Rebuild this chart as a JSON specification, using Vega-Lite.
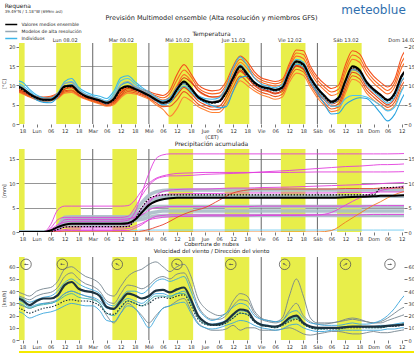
{
"$schema": "https://vega.github.io/schema/vega-lite/v6.json",
"padding": {"left": 1, "top": 2, "right": 0, "bottom": 0},
"background": "white",
"title": {"text": "Requena", "subtitle": "39.49°N / 1.18°W (699m asl)", "anchor": "start", "frame": "bounds", "dx": 3, "fontSize": 6, "subtitleFontSize": 4, "fontWeight": "normal", "offset": -9.5, "subtitlePadding": 1, "color": "#222", "subtitleColor": "#333"},
"spacing": 1,
"config": {
 "font": "DejaVu Sans",
 "view": {"stroke": null},
 "axis": {"labelFont": "DejaVu Sans", "titleFont": "DejaVu Sans", "labelColor": "#333", "titleColor": "#333", "tickColor": "#777", "labelFontSize": 5, "titleFontSize": 5, "titleFontWeight": "normal", "domain": false, "grid": false, "tickSize": 3, "labelPadding": 1},
 "legend": {"rowPadding": 0, "symbolSize": 9, "labelFontSize": 4.5},
 "title": {"font": "DejaVu Sans", "fontWeight": "normal", "color": "#222"}
},
"datasets": {
 "days": [
  {"d0": -24, "r": -15.6, "s": -5.1},
  {"d0": 0, "r": 8.4, "s": 18.9},
  {"d0": 24, "r": 32.4, "s": 42.9},
  {"d0": 48, "r": 56.4, "s": 66.9},
  {"d0": 72, "r": 80.4, "s": 90.9},
  {"d0": 96, "r": 104.4, "s": 114.9},
  {"d0": 120, "r": 128.4, "s": 138.9},
  {"d0": 144, "r": 152.4, "s": 162.9}
 ],
 "temp": [
  {"t":-9,"m":10.0,"d":9.6,"o1":9.6,"o2":9.2,"o3":8.8,"o4":8.5,"o5":9.0,"o6":9.4,"o7":8.6,"b1":11.3,"b2":10.8,"b3":10.4,"h1":10.2,"h2":9.8},
  {"t":-6,"m":9.2,"d":8.8,"o1":9.2,"o2":8.6,"o3":8.2,"o4":7.8,"o5":8.5,"o6":8.9,"o7":8.0,"b1":10.8,"b2":10.0,"b3":9.5,"h1":9.5,"h2":9.0},
  {"t":-3,"m":7.8,"d":7.6,"o1":8.0,"o2":7.6,"o3":7.3,"o4":7.0,"o5":7.5,"o6":7.8,"o7":7.1,"b1":9.0,"b2":8.5,"b3":7.8,"h1":8.0,"h2":7.6},
  {"t":0,"m":6.8,"d":6.6,"o1":7.2,"o2":6.9,"o3":6.6,"o4":6.3,"o5":6.8,"o6":7.0,"o7":6.4,"b1":7.5,"b2":7.0,"b3":6.2,"h1":7.0,"h2":6.5},
  {"t":3,"m":6.3,"d":6.2,"o1":7.0,"o2":6.6,"o3":6.2,"o4":5.9,"o5":6.4,"o6":6.8,"o7":6.0,"b1":6.8,"b2":6.3,"b3":5.6,"h1":6.5,"h2":6.0},
  {"t":6,"m":6.3,"d":6.2,"o1":7.2,"o2":6.7,"o3":6.3,"o4":6.0,"o5":6.5,"o6":7.0,"o7":6.1,"b1":6.7,"b2":6.2,"b3":5.5,"h1":6.4,"h2":6.0},
  {"t":9,"m":7.5,"d":7.3,"o1":8.0,"o2":7.5,"o3":7.0,"o4":6.6,"o5":7.2,"o6":7.8,"o7":6.8,"b1":8.0,"b2":7.6,"b3":7.0,"h1":7.8,"h2":7.3},
  {"t":12,"m":9.8,"d":9.5,"o1":9.8,"o2":9.2,"o3":8.6,"o4":8.0,"o5":9.0,"o6":9.6,"o7":8.3,"b1":11.0,"b2":10.5,"b3":9.8,"h1":10.5,"h2":9.8},
  {"t":15,"m":9.9,"d":9.7,"o1":10.2,"o2":9.5,"o3":8.8,"o4":8.2,"o5":9.4,"o6":9.9,"o7":8.6,"b1":11.8,"b2":11.0,"b3":10.2,"h1":10.8,"h2":10.0},
  {"t":18,"m":8.3,"d":8.2,"o1":8.6,"o2":8.2,"o3":7.6,"o4":7.2,"o5":8.0,"o6":8.4,"o7":7.4,"b1":9.5,"b2":9.0,"b3":8.5,"h1":8.8,"h2":8.4},
  {"t":21,"m":7.2,"d":7.1,"o1":7.6,"o2":7.2,"o3":6.8,"o4":6.4,"o5":7.0,"o6":7.4,"o7":6.6,"b1":8.3,"b2":7.8,"b3":7.2,"h1":7.6,"h2":7.2},
  {"t":24,"m":6.6,"d":6.5,"o1":6.9,"o2":6.6,"o3":6.2,"o4":5.8,"o5":6.4,"o6":6.8,"o7":6.0,"b1":7.6,"b2":7.2,"b3":6.6,"h1":7.0,"h2":6.6},
  {"t":27,"m":6.1,"d":6.0,"o1":6.3,"o2":6.0,"o3":5.6,"o4":5.2,"o5":5.8,"o6":6.2,"o7":5.4,"b1":7.2,"b2":6.6,"b3":6.0,"h1":6.4,"h2":6.0},
  {"t":30,"m":5.5,"d":5.4,"o1":5.8,"o2":5.4,"o3":5.0,"o4":4.6,"o5":5.2,"o6":5.6,"o7":4.8,"b1":6.6,"b2":6.0,"b3":5.2,"h1":5.8,"h2":5.4},
  {"t":33,"m":6.5,"d":6.2,"o1":6.4,"o2":6.0,"o3":5.6,"o4":5.0,"o5":5.8,"o6":6.2,"o7":5.3,"b1":8.5,"b2":7.8,"b3":6.8,"h1":7.2,"h2":6.4},
  {"t":36,"m":9.2,"d":8.8,"o1":8.6,"o2":8.0,"o3":7.5,"o4":6.8,"o5":8.0,"o6":8.3,"o7":7.2,"b1":12.0,"b2":11.2,"b3":10.0,"h1":10.2,"h2":9.2},
  {"t":39,"m":9.8,"d":9.6,"o1":10.0,"o2":9.4,"o3":8.8,"o4":8.0,"o5":9.2,"o6":9.7,"o7":8.4,"b1":12.5,"b2":11.8,"b3":10.8,"h1":11.0,"h2":10.0},
  {"t":42,"m":9.1,"d":9.0,"o1":9.6,"o2":9.0,"o3":8.5,"o4":7.8,"o5":8.8,"o6":9.3,"o7":8.1,"b1":11.0,"b2":10.4,"b3":9.6,"h1":9.8,"h2":9.2},
  {"t":45,"m":8.3,"d":8.2,"o1":9.0,"o2":8.4,"o3":7.8,"o4":7.2,"o5":8.2,"o6":8.7,"o7":7.5,"b1":9.5,"b2":9.0,"b3":8.4,"h1":8.8,"h2":8.4},
  {"t":48,"m":7.4,"d":7.3,"o1":8.4,"o2":7.6,"o3":7.0,"o4":6.4,"o5":7.4,"o6":8.0,"o7":6.7,"b1":8.3,"b2":7.8,"b3":7.2,"h1":7.8,"h2":7.4},
  {"t":51,"m":6.3,"d":6.2,"o1":7.8,"o2":6.8,"o3":6.0,"o4":5.0,"o5":6.4,"o6":7.3,"o7":5.5,"b1":7.0,"b2":6.6,"b3":6.0,"h1":6.6,"h2":6.2},
  {"t":54,"m":5.5,"d":5.4,"o1":7.4,"o2":6.2,"o3":5.2,"o4":3.8,"o5":5.6,"o6":6.8,"o7":4.5,"b1":6.0,"b2":5.6,"b3":5.0,"h1":5.8,"h2":5.4},
  {"t":57,"m":6.2,"d":6.0,"o1":8.8,"o2":7.0,"o3":5.6,"o4":2.0,"o5":6.2,"o6":8.0,"o7":4.6,"b1":6.8,"b2":6.2,"b3":5.6,"h1":6.4,"h2":6.0},
  {"t":60,"m":9.0,"d":8.7,"o1":12.8,"o2":10.0,"o3":7.5,"o4":4.0,"o5":9.5,"o6":11.4,"o7":6.2,"b1":9.5,"b2":8.8,"b3":8.2,"h1":9.2,"h2":8.8},
  {"t":63,"m":11.0,"d":10.7,"o1":15.4,"o2":12.8,"o3":9.5,"o4":7.0,"o5":12.0,"o6":14.0,"o7":8.4,"b1":10.8,"b2":10.4,"b3":9.8,"h1":11.0,"h2":10.5},
  {"t":66,"m":9.3,"d":9.0,"o1":13.0,"o2":11.2,"o3":8.0,"o4":6.0,"o5":10.8,"o6":12.2,"o7":7.0,"b1":9.2,"b2":8.8,"b3":8.4,"h1":9.4,"h2":9.0},
  {"t":69,"m":7.0,"d":6.8,"o1":10.2,"o2":8.6,"o3":6.0,"o4":4.5,"o5":8.8,"o6":9.4,"o7":5.2,"b1":7.4,"b2":7.0,"b3":6.6,"h1":7.2,"h2":7.0},
  {"t":72,"m":6.0,"d":5.8,"o1":9.0,"o2":7.4,"o3":5.0,"o4":3.6,"o5":7.6,"o6":8.2,"o7":4.3,"b1":6.6,"b2":6.2,"b3":5.6,"h1":6.2,"h2":6.0},
  {"t":75,"m":5.6,"d":5.4,"o1":8.6,"o2":7.0,"o3":4.4,"o4":3.0,"o5":7.0,"o6":7.8,"o7":3.7,"b1":6.4,"b2":5.8,"b3":4.8,"h1":5.8,"h2":5.6},
  {"t":78,"m":5.9,"d":5.7,"o1":8.8,"o2":7.2,"o3":4.6,"o4":3.0,"o5":7.0,"o6":8.0,"o7":3.8,"b1":6.8,"b2":6.0,"b3":4.2,"h1":6.2,"h2":5.8},
  {"t":81,"m":8.3,"d":8.0,"o1":11.0,"o2":9.4,"o3":7.0,"o4":5.0,"o5":8.5,"o6":10.2,"o7":6.0,"b1":9.5,"b2":8.2,"b3":4.5,"h1":8.6,"h2":8.0},
  {"t":84,"m":12.0,"d":11.6,"o1":15.0,"o2":13.2,"o3":10.8,"o4":8.5,"o5":11.5,"o6":14.2,"o7":9.6,"b1":14.5,"b2":12.5,"b3":8.5,"h1":12.4,"h2":11.6},
  {"t":87,"m":15.0,"d":14.6,"o1":17.6,"o2":16.0,"o3":13.6,"o4":11.2,"o5":14.0,"o6":16.8,"o7":12.4,"b1":17.4,"b2":15.4,"b3":12.0,"h1":15.2,"h2":14.6},
  {"t":90,"m":13.0,"d":12.6,"o1":16.2,"o2":14.4,"o3":12.0,"o4":10.0,"o5":12.2,"o6":15.3,"o7":11.0,"b1":15.2,"b2":13.4,"b3":12.4,"h1":13.0,"h2":12.6},
  {"t":93,"m":10.8,"d":10.5,"o1":13.6,"o2":12.0,"o3":10.0,"o4":8.6,"o5":10.2,"o6":12.8,"o7":9.3,"b1":12.0,"b2":11.0,"b3":10.6,"h1":10.8,"h2":10.5},
  {"t":96,"m":9.7,"d":9.5,"o1":12.0,"o2":10.8,"o3":8.8,"o4":7.6,"o5":9.2,"o6":11.4,"o7":8.2,"b1":10.4,"b2":9.8,"b3":9.4,"h1":9.8,"h2":9.5},
  {"t":99,"m":9.3,"d":9.1,"o1":11.4,"o2":10.2,"o3":8.4,"o4":7.0,"o5":8.6,"o6":10.8,"o7":7.7,"b1":9.8,"b2":9.4,"b3":9.0,"h1":9.4,"h2":9.1},
  {"t":102,"m":8.8,"d":8.6,"o1":11.0,"o2":9.8,"o3":7.8,"o4":6.4,"o5":8.0,"o6":10.4,"o7":7.1,"b1":9.4,"b2":9.0,"b3":8.6,"h1":9.0,"h2":8.6},
  {"t":105,"m":9.5,"d":9.3,"o1":11.6,"o2":10.4,"o3":8.4,"o4":7.0,"o5":8.8,"o6":11.0,"o7":7.7,"b1":10.2,"b2":9.6,"b3":9.2,"h1":9.6,"h2":9.3},
  {"t":108,"m":13.5,"d":13.2,"o1":15.6,"o2":14.4,"o3":12.4,"o4":10.8,"o5":12.6,"o6":15.0,"o7":11.6,"b1":14.2,"b2":13.6,"b3":13.0,"h1":13.6,"h2":13.2},
  {"t":111,"m":16.3,"d":16.0,"o1":19.2,"o2":17.6,"o3":15.2,"o4":13.2,"o5":15.0,"o6":18.4,"o7":14.2,"b1":16.8,"b2":16.2,"b3":15.6,"h1":16.4,"h2":16.0},
  {"t":114,"m":15.5,"d":15.2,"o1":19.0,"o2":17.0,"o3":14.4,"o4":12.6,"o5":14.2,"o6":18.0,"o7":13.5,"b1":16.0,"b2":15.4,"b3":14.8,"h1":15.6,"h2":15.2},
  {"t":117,"m":12.0,"d":11.8,"o1":15.0,"o2":13.4,"o3":11.0,"o4":9.6,"o5":11.0,"o6":14.2,"o7":10.3,"b1":12.4,"b2":11.8,"b3":11.0,"h1":12.0,"h2":11.8},
  {"t":120,"m":9.3,"d":9.1,"o1":12.2,"o2":10.6,"o3":8.2,"o4":6.8,"o5":8.4,"o6":11.4,"o7":7.5,"b1":9.6,"b2":8.8,"b3":8.0,"h1":9.4,"h2":9.0},
  {"t":123,"m":7.3,"d":7.1,"o1":10.4,"o2":8.8,"o3":6.2,"o4":4.8,"o5":6.6,"o6":9.6,"o7":5.5,"b1":7.4,"b2":6.4,"b3":5.2,"h1":7.4,"h2":7.0},
  {"t":126,"m":5.8,"d":5.6,"o1":9.2,"o2":7.4,"o3":4.6,"o4":3.2,"o5":5.2,"o6":8.3,"o7":3.9,"b1":5.4,"b2":4.6,"b3":2.6,"h1":6.0,"h2":5.6},
  {"t":129,"m":6.8,"d":6.5,"o1":10.0,"o2":8.0,"o3":5.2,"o4":3.6,"o5":6.0,"o6":9.0,"o7":4.4,"b1":6.4,"b2":4.6,"b3":2.8,"h1":6.8,"h2":6.4},
  {"t":132,"m":11.3,"d":11.0,"o1":15.4,"o2":13.2,"o3":9.8,"o4":8.0,"o5":10.6,"o6":14.3,"o7":8.9,"b1":10.8,"b2":6.6,"b3":5.0,"h1":11.0,"h2":10.5},
  {"t":135,"m":15.0,"d":14.6,"o1":19.0,"o2":16.8,"o3":13.4,"o4":11.6,"o5":14.4,"o6":17.9,"o7":12.5,"b1":14.2,"b2":7.4,"b3":6.2,"h1":14.6,"h2":14.0},
  {"t":138,"m":14.0,"d":13.7,"o1":18.2,"o2":16.0,"o3":12.6,"o4":10.8,"o5":13.6,"o6":17.1,"o7":11.7,"b1":13.2,"b2":7.4,"b3":6.8,"h1":13.8,"h2":13.4},
  {"t":141,"m":10.9,"d":10.7,"o1":14.8,"o2":12.8,"o3":9.6,"o4":8.0,"o5":10.6,"o6":13.8,"o7":8.8,"b1":10.2,"b2":7.0,"b3":6.6,"h1":10.8,"h2":10.4},
  {"t":144,"m":9.0,"d":8.8,"o1":12.4,"o2":10.6,"o3":7.8,"o4":6.2,"o5":8.8,"o6":11.5,"o7":7.0,"b1":8.4,"b2":6.0,"b3":5.0,"h1":9.0,"h2":8.6},
  {"t":147,"m":7.6,"d":7.4,"o1":10.8,"o2":9.0,"o3":6.2,"o4":4.8,"o5":7.4,"o6":9.9,"o7":5.5,"b1":6.8,"b2":4.8,"b3":2.8,"h1":7.6,"h2":7.2},
  {"t":150,"m":6.2,"d":6.0,"o1":9.6,"o2":7.8,"o3":5.0,"o4":3.6,"o5":6.2,"o6":8.7,"o7":4.3,"b1":5.4,"b2":3.4,"b3":0.8,"h1":6.4,"h2":6.0},
  {"t":153,"m":8.0,"d":7.6,"o1":11.6,"o2":9.6,"o3":6.6,"o4":4.8,"o5":8.0,"o6":10.6,"o7":5.7,"b1":7.0,"b2":4.4,"b3":2.5,"h1":8.0,"h2":7.6},
  {"t":156,"m":12.5,"d":12.2,"o1":17.4,"o2":14.6,"o3":11.0,"o4":9.0,"o5":12.6,"o6":16.0,"o7":10.0,"b1":11.2,"b2":8.6,"b3":6.5,"h1":12.4,"h2":12.0},
  {"t":159,"m":14.5,"d":14.2,"o1":20.0,"o2":17.0,"o3":13.0,"o4":11.0,"o5":14.8,"o6":18.5,"o7":12.0,"b1":13.0,"b2":11.5,"b3":9.5,"h1":14.4,"h2":14.0}
 ],
 "precip": [
  {"t":-9,"m":0,"d":0,"p1":0,"p2":0,"p3":0,"p4":0,"p5":0,"p6":0,"p7":0,"p8":0,"r1":0,"r2":0,"g1":0,"g2":0,"g3":0,"g4":0,"g5":0,"c1":0},
  {"t":0,"m":0,"d":0,"p1":0,"p2":0,"p3":0,"p4":0,"p5":0,"p6":0,"p7":0,"p8":0,"r1":0,"r2":0,"g1":0,"g2":0,"g3":0,"g4":0,"g5":0,"c1":0},
  {"t":3,"m":0,"d":0,"p1":0,"p2":0,"p3":0,"p4":0,"p5":0,"p6":0,"p7":0,"p8":0,"r1":0,"r2":0,"g1":0,"g2":0,"g3":0,"g4":0,"g5":0,"c1":0},
  {"t":6,"m":0.3,"d":0,"p1":0.5,"p2":0.8,"p3":1.5,"p4":0,"p5":0,"p6":0,"p7":0,"p8":0,"r1":0,"r2":0,"g1":0,"g2":0,"g3":0,"g4":0,"g5":0,"c1":0},
  {"t":9,"m":1.0,"d":0.5,"p1":1.5,"p2":2.5,"p3":4.5,"p4":0.8,"p5":0.2,"p6":1.0,"p7":0.3,"p8":0,"r1":0,"r2":0,"g1":0.8,"g2":1.0,"g3":0.6,"g4":0.9,"g5":0.5,"c1":0.1},
  {"t":12,"m":1.5,"d":1.0,"p1":2.0,"p2":3.0,"p3":5.3,"p4":1.5,"p5":0.5,"p6":2.5,"p7":1.0,"p8":0.3,"r1":0,"r2":0,"g1":2.3,"g2":3.0,"g3":1.8,"g4":2.6,"g5":1.5,"c1":0.2},
  {"t":15,"m":1.7,"d":1.1,"p1":2.2,"p2":3.0,"p3":5.3,"p4":1.6,"p5":0.6,"p6":2.6,"p7":1.0,"p8":0.3,"r1":0,"r2":0,"g1":2.3,"g2":3.1,"g3":1.8,"g4":2.6,"g5":1.5,"c1":0.2},
  {"t":24,"m":1.7,"d":1.1,"p1":2.2,"p2":3.0,"p3":5.3,"p4":1.6,"p5":0.6,"p6":2.6,"p7":1.0,"p8":0.3,"r1":0,"r2":0,"g1":2.3,"g2":3.1,"g3":1.8,"g4":2.6,"g5":1.5,"c1":0.2},
  {"t":36,"m":1.7,"d":1.1,"p1":2.2,"p2":3.0,"p3":5.3,"p4":1.6,"p5":0.6,"p6":2.6,"p7":1.0,"p8":0.3,"r1":0,"r2":0,"g1":2.3,"g2":3.1,"g3":1.8,"g4":2.6,"g5":1.5,"c1":0.2},
  {"t":39,"m":1.8,"d":1.1,"p1":2.4,"p2":3.2,"p3":5.4,"p4":1.6,"p5":0.7,"p6":2.7,"p7":1.2,"p8":0.3,"r1":0,"r2":0,"g1":2.3,"g2":3.1,"g3":1.9,"g4":2.7,"g5":1.6,"c1":0.2},
  {"t":42,"m":2.5,"d":2.5,"p1":4.0,"p2":5.0,"p3":6.5,"p4":2.5,"p5":1.2,"p6":3.0,"p7":3.0,"p8":0.8,"r1":0,"r2":0,"g1":2.4,"g2":3.5,"g3":3.0,"g4":4.0,"g5":2.5,"c1":0.3},
  {"t":45,"m":4.0,"d":5.0,"p1":8.0,"p2":7.5,"p3":8.5,"p4":4.0,"p5":1.8,"p6":3.5,"p7":5.0,"p8":1.5,"r1":0.2,"r2":0,"g1":2.6,"g2":4.2,"g3":4.5,"g4":6.0,"g5":3.3,"c1":0.4},
  {"t":48,"m":5.5,"d":6.8,"p1":12.0,"p2":9.5,"p3":10.0,"p4":6.0,"p5":2.5,"p6":4.5,"p7":6.5,"p8":2.5,"r1":0.5,"r2":0,"g1":3.0,"g2":5.0,"g3":6.0,"g4":7.5,"g5":3.8,"c1":0.4},
  {"t":51,"m":6.3,"d":7.4,"p1":15.0,"p2":10.8,"p3":11.0,"p4":7.5,"p5":2.8,"p6":5.0,"p7":7.3,"p8":3.2,"r1":1.0,"r2":0,"g1":3.3,"g2":5.2,"g3":6.8,"g4":8.2,"g5":4.1,"c1":0.4},
  {"t":54,"m":6.7,"d":7.6,"p1":15.8,"p2":11.3,"p3":11.5,"p4":8.3,"p5":3.0,"p6":5.1,"p7":7.6,"p8":3.4,"r1":1.5,"r2":0,"g1":3.4,"g2":5.2,"g3":7.2,"g4":8.5,"g5":4.3,"c1":0.4},
  {"t":57,"m":6.9,"d":7.6,"p1":16.0,"p2":11.5,"p3":11.8,"p4":8.6,"p5":3.1,"p6":5.2,"p7":7.8,"p8":3.5,"r1":2.2,"r2":0,"g1":3.4,"g2":5.2,"g3":7.3,"g4":8.6,"g5":4.3,"c1":0.4},
  {"t":60,"m":7.0,"d":7.6,"p1":16.0,"p2":11.5,"p3":12.0,"p4":8.7,"p5":3.2,"p6":5.2,"p7":7.8,"p8":3.5,"r1":3.0,"r2":0,"g1":3.4,"g2":5.2,"g3":7.3,"g4":8.6,"g5":4.3,"c1":0.4},
  {"t":66,"m":7.0,"d":7.6,"p1":16.0,"p2":11.6,"p3":12.1,"p4":8.8,"p5":3.2,"p6":5.2,"p7":7.9,"p8":3.5,"r1":4.2,"r2":0,"g1":3.4,"g2":5.2,"g3":7.3,"g4":8.6,"g5":4.3,"c1":0.4},
  {"t":72,"m":7.0,"d":7.6,"p1":16.0,"p2":11.8,"p3":12.2,"p4":8.8,"p5":3.3,"p6":5.2,"p7":7.9,"p8":3.5,"r1":5.0,"r2":0,"g1":3.4,"g2":5.2,"g3":7.3,"g4":8.6,"g5":4.3,"c1":0.4},
  {"t":78,"m":7.0,"d":7.6,"p1":16.0,"p2":11.9,"p3":12.2,"p4":8.9,"p5":3.3,"p6":5.2,"p7":7.9,"p8":3.5,"r1":6.5,"r2":0,"g1":3.4,"g2":5.2,"g3":7.3,"g4":8.6,"g5":4.3,"c1":0.4},
  {"t":84,"m":7.0,"d":7.6,"p1":16.0,"p2":12.0,"p3":12.2,"p4":9.0,"p5":3.3,"p6":5.2,"p7":8.0,"p8":3.5,"r1":8.0,"r2":0,"g1":3.4,"g2":5.2,"g3":7.3,"g4":8.6,"g5":4.3,"c1":0.4},
  {"t":90,"m":7.0,"d":7.6,"p1":16.0,"p2":12.1,"p3":12.2,"p4":9.0,"p5":3.3,"p6":5.2,"p7":8.0,"p8":3.5,"r1":8.6,"r2":0,"g1":3.4,"g2":5.2,"g3":7.3,"g4":8.6,"g5":4.3,"c1":0.4},
  {"t":96,"m":7.0,"d":7.6,"p1":16.0,"p2":12.3,"p3":12.2,"p4":9.1,"p5":3.4,"p6":5.3,"p7":8.0,"p8":3.5,"r1":8.8,"r2":0,"g1":3.4,"g2":5.2,"g3":7.3,"g4":8.6,"g5":4.3,"c1":0.4},
  {"t":108,"m":7.0,"d":7.6,"p1":16.0,"p2":12.6,"p3":12.2,"p4":9.2,"p5":3.4,"p6":5.3,"p7":8.0,"p8":3.5,"r1":8.8,"r2":0,"g1":3.4,"g2":5.2,"g3":7.3,"g4":8.6,"g5":4.3,"c1":0.4},
  {"t":120,"m":7.0,"d":7.6,"p1":16.0,"p2":13.0,"p3":12.3,"p4":9.4,"p5":3.5,"p6":5.3,"p7":8.0,"p8":3.5,"r1":8.8,"r2":0,"g1":3.4,"g2":5.2,"g3":7.3,"g4":8.6,"g5":4.3,"c1":0.4},
  {"t":126,"m":7.0,"d":7.6,"p1":16.0,"p2":13.2,"p3":12.3,"p4":9.5,"p5":4.0,"p6":5.3,"p7":8.0,"p8":3.5,"r1":8.8,"r2":0.3,"g1":3.4,"g2":5.2,"g3":7.3,"g4":8.6,"g5":4.3,"c1":0.4},
  {"t":132,"m":7.1,"d":7.6,"p1":16.0,"p2":13.4,"p3":12.3,"p4":9.6,"p5":5.5,"p6":5.3,"p7":8.1,"p8":3.5,"r1":8.9,"r2":2.0,"g1":3.4,"g2":5.2,"g3":7.3,"g4":8.6,"g5":4.3,"c1":0.4},
  {"t":138,"m":7.2,"d":7.6,"p1":16.0,"p2":13.5,"p3":12.3,"p4":9.7,"p5":7.0,"p6":5.3,"p7":8.1,"p8":3.5,"r1":8.9,"r2":3.8,"g1":3.4,"g2":5.2,"g3":7.3,"g4":8.6,"g5":4.3,"c1":0.4},
  {"t":144,"m":7.3,"d":7.6,"p1":16.0,"p2":13.7,"p3":12.3,"p4":9.8,"p5":8.0,"p6":5.4,"p7":8.1,"p8":3.6,"r1":8.9,"r2":5.5,"g1":3.4,"g2":5.2,"g3":7.3,"g4":8.6,"g5":4.3,"c1":0.4},
  {"t":147,"m":7.4,"d":9.0,"p1":16.0,"p2":13.8,"p3":12.3,"p4":9.9,"p5":8.5,"p6":5.4,"p7":8.2,"p8":3.6,"r1":9.0,"r2":6.2,"g1":3.4,"g2":5.2,"g3":7.3,"g4":8.6,"g5":4.3,"c1":0.4},
  {"t":150,"m":7.4,"d":9.1,"p1":16.0,"p2":13.8,"p3":12.3,"p4":10.0,"p5":8.8,"p6":5.4,"p7":8.2,"p8":3.6,"r1":9.0,"r2":7.0,"g1":3.4,"g2":5.2,"g3":7.3,"g4":8.6,"g5":4.3,"c1":0.4},
  {"t":159,"m":7.6,"d":9.2,"p1":16.1,"p2":14.0,"p3":12.4,"p4":10.2,"p5":9.6,"p6":5.4,"p7":8.2,"p8":3.6,"r1":9.0,"r2":8.6,"g1":3.4,"g2":5.2,"g3":7.3,"g4":8.6,"g5":4.3,"c1":0.4}
 ],
 "wind": [
  {"t":-9,"m":35,"d":27,"w1":40,"w2":37,"w3":30,"w4":34,"w5":24,"w6":36,"w7":31},
  {"t":-6,"m":32.5,"d":25,"w1":38,"w2":35,"w3":28,"w4":31,"w5":22,"w6":34,"w7":29},
  {"t":-3,"m":28.5,"d":22,"w1":36,"w2":33,"w3":26,"w4":27,"w5":18,"w6":31,"w7":26},
  {"t":0,"m":32,"d":24,"w1":40,"w2":36,"w3":28,"w4":29,"w5":20,"w6":33,"w7":28},
  {"t":3,"m":34,"d":26,"w1":42,"w2":38,"w3":30,"w4":30,"w5":22,"w6":35,"w7":29},
  {"t":6,"m":34,"d":27,"w1":43,"w2":39,"w3":31,"w4":30,"w5":23,"w6":36,"w7":30},
  {"t":9,"m":36.5,"d":29,"w1":48,"w2":43,"w3":33,"w4":33,"w5":25,"w6":40,"w7":32},
  {"t":12,"m":45,"d":32,"w1":58,"w2":52,"w3":38,"w4":38,"w5":28,"w6":47,"w7":36},
  {"t":15,"m":47.5,"d":33,"w1":60,"w2":55,"w3":40,"w4":40,"w5":30,"w6":50,"w7":38},
  {"t":18,"m":42,"d":32,"w1":56,"w2":50,"w3":38,"w4":38,"w5":29,"w6":46,"w7":35},
  {"t":21,"m":40,"d":32,"w1":52,"w2":46,"w3":36,"w4":36,"w5":28,"w6":43,"w7":34},
  {"t":24,"m":39,"d":31,"w1":50,"w2":44,"w3":34,"w4":35,"w5":28,"w6":41,"w7":33},
  {"t":27,"m":36,"d":28,"w1":46,"w2":40,"w3":30,"w4":32,"w5":24,"w6":38,"w7":30},
  {"t":30,"m":27,"d":22,"w1":38,"w2":32,"w3":20,"w4":26,"w5":16,"w6":30,"w7":22},
  {"t":33,"m":25.5,"d":21,"w1":36,"w2":30,"w3":14,"w4":25,"w5":15,"w6":28,"w7":20},
  {"t":36,"m":32,"d":27,"w1":44,"w2":38,"w3":22,"w4":30,"w5":22,"w6":34,"w7":26},
  {"t":39,"m":38,"d":32,"w1":52,"w2":45,"w3":30,"w4":34,"w5":28,"w6":40,"w7":32},
  {"t":42,"m":36.5,"d":30,"w1":56,"w2":44,"w3":26,"w4":32,"w5":26,"w6":40,"w7":30},
  {"t":45,"m":34,"d":28,"w1":58,"w2":42,"w3":20,"w4":30,"w5":18,"w6":38,"w7":28},
  {"t":48,"m":36,"d":30,"w1":62,"w2":45,"w3":14,"w4":34,"w5":10,"w6":42,"w7":32},
  {"t":51,"m":40.5,"d":34,"w1":64,"w2":50,"w3":20,"w4":38,"w5":18,"w6":48,"w7":36},
  {"t":54,"m":41,"d":35,"w1":60,"w2":52,"w3":26,"w4":38,"w5":26,"w6":50,"w7":36},
  {"t":57,"m":39,"d":34,"w1":56,"w2":50,"w3":28,"w4":36,"w5":28,"w6":48,"w7":35},
  {"t":60,"m":41.5,"d":36,"w1":60,"w2":54,"w3":32,"w4":38,"w5":30,"w6":50,"w7":38},
  {"t":63,"m":43,"d":37,"w1":62,"w2":55,"w3":34,"w4":40,"w5":31,"w6":52,"w7":38},
  {"t":66,"m":33,"d":28,"w1":52,"w2":44,"w3":24,"w4":32,"w5":22,"w6":40,"w7":30},
  {"t":69,"m":20,"d":17,"w1":34,"w2":28,"w3":14,"w4":20,"w5":13,"w6":26,"w7":18},
  {"t":72,"m":14.5,"d":13,"w1":26,"w2":20,"w3":10,"w4":15,"w5":10,"w6":19,"w7":13},
  {"t":75,"m":12.5,"d":12,"w1":22,"w2":17,"w3":8,"w4":13,"w5":9,"w6":16,"w7":12},
  {"t":78,"m":13,"d":12,"w1":20,"w2":17,"w3":8,"w4":14,"w5":10,"w6":18,"w7":12},
  {"t":81,"m":15.5,"d":14,"w1":22,"w2":20,"w3":9,"w4":16,"w5":12,"w6":22,"w7":14},
  {"t":84,"m":21,"d":18,"w1":32,"w2":28,"w3":12,"w4":20,"w5":14,"w6":27,"w7":18},
  {"t":87,"m":25,"d":22,"w1":38,"w2":33,"w3":8,"w4":24,"w5":16,"w6":30,"w7":22},
  {"t":90,"m":24,"d":21,"w1":36,"w2":32,"w3":10,"w4":23,"w5":15,"w6":28,"w7":21},
  {"t":93,"m":16,"d":15,"w1":24,"w2":22,"w3":10,"w4":16,"w5":12,"w6":20,"w7":15},
  {"t":96,"m":12.5,"d":12,"w1":18,"w2":17,"w3":8,"w4":13,"w5":10,"w6":17,"w7":12},
  {"t":99,"m":11.5,"d":11,"w1":16,"w2":15,"w3":8,"w4":12,"w5":9,"w6":16,"w7":11},
  {"t":102,"m":11,"d":10,"w1":15,"w2":14,"w3":8,"w4":11,"w5":8,"w6":15,"w7":10},
  {"t":105,"m":13,"d":12,"w1":18,"w2":16,"w3":9,"w4":13,"w5":9,"w6":16,"w7":12},
  {"t":108,"m":18,"d":15,"w1":36,"w2":24,"w3":10,"w4":17,"w5":12,"w6":22,"w7":16},
  {"t":111,"m":20,"d":17,"w1":50,"w2":30,"w3":8,"w4":19,"w5":13,"w6":24,"w7":18},
  {"t":114,"m":14,"d":13,"w1":36,"w2":20,"w3":5,"w4":14,"w5":10,"w6":18,"w7":13},
  {"t":117,"m":11,"d":10,"w1":18,"w2":15,"w3":4,"w4":11,"w5":8,"w6":14,"w7":10},
  {"t":120,"m":10,"d":9,"w1":14,"w2":13,"w3":5,"w4":10,"w5":7,"w6":13,"w7":9},
  {"t":123,"m":10,"d":9,"w1":14,"w2":13,"w3":6,"w4":10,"w5":7,"w6":12,"w7":9},
  {"t":126,"m":10,"d":9,"w1":14,"w2":14,"w3":7,"w4":10,"w5":8,"w6":12,"w7":10},
  {"t":129,"m":10,"d":9,"w1":15,"w2":15,"w3":7,"w4":10,"w5":8,"w6":12,"w7":10},
  {"t":132,"m":10.5,"d":10,"w1":17,"w2":16,"w3":6,"w4":11,"w5":8,"w6":13,"w7":10},
  {"t":135,"m":11,"d":10,"w1":18,"w2":17,"w3":5,"w4":11,"w5":8,"w6":14,"w7":11},
  {"t":138,"m":11,"d":10,"w1":17,"w2":16,"w3":5,"w4":11,"w5":8,"w6":13,"w7":11},
  {"t":141,"m":11,"d":10,"w1":15,"w2":15,"w3":6,"w4":11,"w5":8,"w6":13,"w7":10},
  {"t":144,"m":11,"d":10,"w1":14,"w2":14,"w3":7,"w4":11,"w5":8,"w6":14,"w7":10},
  {"t":147,"m":11,"d":10,"w1":15,"w2":14,"w3":6,"w4":12,"w5":8,"w6":16,"w7":10},
  {"t":150,"m":11.5,"d":11,"w1":18,"w2":16,"w3":6,"w4":12,"w5":9,"w6":20,"w7":11},
  {"t":153,"m":12,"d":11,"w1":22,"w2":18,"w3":7,"w4":13,"w5":9,"w6":26,"w7":12},
  {"t":156,"m":12.5,"d":12,"w1":26,"w2":20,"w3":8,"w4":14,"w5":10,"w6":34,"w7":13},
  {"t":159,"m":13,"d":12,"w1":28,"w2":22,"w3":9,"w4":15,"w5":10,"w6":40,"w7":14}
 ],
 "wdir": [
  {"t":-4.5,"dir":270},{"t":11,"dir":280},{"t":34.5,"dir":300},{"t":60,"dir":290},
  {"t":83,"dir":270},{"t":106,"dir":300},{"t":132,"dir":60},{"t":151,"dir":90}
 ]
},
"vconcat": [
 {
  "width": 385, "height": 81,
  "title": {"text": "Previsión Multimodel ensemble (Alta resolución y miembros GFS)", "subtitle": "Temperatura", "fontSize": 6.5, "subtitleFontSize": 6, "subtitlePadding": 9, "offset": -32.5, "anchor": "middle", "subtitleColor": "#222"},
  "resolve": {"axis": {"x": "independent", "y": "independent"}},
  "layer": [
   {"data": {"name": "days"}, "transform": [{"filter": "datum.d0 < 144"}], "mark": {"type": "rect", "color": "#e8ee4a", "clip": true},
    "encoding": {"x": {"field": "r", "type": "quantitative", "scale": {"domain": [-7.5, 157], "nice": false, "zero": false}, "axis": null}, "x2": {"field": "s"}}},
   {"data": {"name": "days"}, "transform": [{"filter": "datum.d0 == 24 || datum.d0 == 48 || datum.d0 == 96 || datum.d0 == 120"}], "mark": {"type": "rule", "color": "#666", "strokeWidth": 1},
    "encoding": {"x": {"field": "d0", "type": "quantitative", "scale": {"domain": [-7.5, 157], "nice": false, "zero": false}, "axis": null}}},
   {"data": {"name": "temp"}, "transform": [{"fold": ["o1","o2","o3","o4","o5","o6","o7","b1","b2","b3","h1","h2"], "as": ["k","v"]}],
    "mark": {"type": "line", "strokeWidth": 1.1, "interpolate": "monotone", "clip": true},
    "encoding": {
     "x": {"field": "t", "type": "quantitative", "scale": {"domain": [-7.5, 157], "nice": false, "zero": false}, "axis": null},
     "y": {"field": "v", "type": "quantitative", "scale": {"domain": [0, 21], "nice": false, "zero": false}, "axis": null},
     "color": {"field": "k", "type": "nominal",
      "scale": {"domain": ["m","h1","b1","o1","o2","o3","o4","o5","o6","o7","b2","b3","h2"], "range": ["#000000","#95a6b2","#3cb6ea","#f4501c","#ff6e26","#e2461a","#ff8233","#d63a12","#f96420","#ec5a1e","#4cc2f2","#2aa4e0","#7d909c"]},
      "legend": {"orient": "none", "legendX": -10.25, "legendY": -21, "values": ["m","h1","b1"], "labelExpr": "datum.value == 'm' ? 'Valores medios ensemble' : datum.value == 'h1' ? 'Modelos de alta resolución' : 'Individuos'", "title": null, "symbolType": "M-4,0H4", "symbolStrokeWidth": 1.5, "symbolSize": 9, "labelFontSize": 4.5, "rowPadding": 0, "labelOffset": 7.75, "padding": 0, "labelLimit": 200, "labelColor": "#222"}}
    }},
   {"data": {"name": "temp"}, "mark": {"type": "line", "color": "#000", "strokeWidth": 1.1, "strokeDash": [1.5, 1.5], "interpolate": "monotone", "clip": true},
    "encoding": {
     "x": {"field": "t", "type": "quantitative", "scale": {"domain": [-7.5, 157], "nice": false, "zero": false},
      "axis": {"orient": "top", "values": [12,36,60,84,108,132,156], "labelExpr": "['Lun 08.02','Mar 09.02','Mié 10.02','Jue 11.02','Vie 12.02','Sáb 13.02','Dom 14.02'][floor(datum.value / 24)]", "ticks": false, "labelPadding": 1, "title": null, "labelFlush": false, "labelOverlap": false}},
     "y": {"field": "d", "type": "quantitative", "scale": {"domain": [0, 21], "nice": false, "zero": false},
      "axis": {"orient": "right", "values": [0,5,10,15,20], "title": null, "labelPadding": 1}}
    }},
   {"data": {"name": "temp"}, "mark": {"type": "line", "color": "#000", "strokeWidth": 2, "interpolate": "monotone", "clip": true},
    "encoding": {
     "x": {"field": "t", "type": "quantitative", "scale": {"domain": [-7.5, 157], "nice": false, "zero": false},
      "axis": {"values": [-6,0,6,12,18,24,30,36,42,48,54,60,66,72,78,84,90,96,102,108,114,120,126,132,138,144,150,156], "labelExpr": "(((datum.value % 24) + 24) % 24) == 0 ? ['Lun','Mar','Mié','Jue','Vie','Sáb','Dom'][floor(datum.value / 24)] : ((((datum.value % 24) + 24) % 24) < 10 ? '0' : '') + (((datum.value % 24) + 24) % 24)", "title": "(CET)", "titlePadding": 1, "labelFlush": false, "labelOverlap": false}},
     "y": {"field": "m", "type": "quantitative", "scale": {"domain": [0, 21], "nice": false, "zero": false},
      "axis": {"values": [0,5,10,15,20], "title": "[°C]", "titlePadding": 2, "grid": true, "gridColor": "#8c8c8c", "gridWidth": 0.8, "gridOpacity": {"condition": {"test": "datum.value > 0 && datum.value < 20", "value": 1}, "value": 0}}}
    }},
   {"data": {"values": [{"w": "meteoblue"}]}, "mark": {"type": "text", "fontSize": 12, "color": "#2f6fae", "align": "center", "baseline": "middle", "font": "DejaVu Sans"},
    "encoding": {
     "x": {"datum": 144, "type": "quantitative", "scale": {"domain": [-7.5, 157], "nice": false, "zero": false}, "axis": null},
     "y": {"datum": 29.5, "type": "quantitative", "scale": {"domain": [0, 21], "nice": false, "zero": false}, "axis": null},
     "text": {"field": "w"}
    }}
  ]
 },
 {
  "width": 385, "height": 83,
  "title": {"text": "Precipitación acumulada", "fontSize": 6, "offset": 2, "anchor": "middle"},
  "resolve": {"axis": {"x": "independent", "y": "independent"}},
  "layer": [
   {"data": {"name": "days"}, "transform": [{"filter": "datum.d0 < 144"}], "mark": {"type": "rect", "color": "#e8ee4a", "clip": true},
    "encoding": {"x": {"field": "r", "type": "quantitative", "scale": {"domain": [-7.5, 157], "nice": false, "zero": false}, "axis": null}, "x2": {"field": "s"}}},
   {"data": {"name": "days"}, "transform": [{"filter": "datum.d0 == 24 || datum.d0 == 48 || datum.d0 == 96 || datum.d0 == 120"}], "mark": {"type": "rule", "color": "#666", "strokeWidth": 1},
    "encoding": {"x": {"field": "d0", "type": "quantitative", "scale": {"domain": [-7.5, 157], "nice": false, "zero": false}, "axis": null}}},
   {"data": {"name": "precip"}, "transform": [{"fold": ["g1","g2","g3","g4","g5"], "as": ["k","v"]}],
    "mark": {"type": "line", "strokeWidth": 3.5, "color": "#a9bcc8", "opacity": 0.9, "interpolate": "monotone", "clip": true},
    "encoding": {
     "x": {"field": "t", "type": "quantitative", "scale": {"domain": [-7.5, 157], "nice": false, "zero": false}, "axis": null},
     "y": {"field": "v", "type": "quantitative", "scale": {"domain": [0, 17], "nice": false, "zero": false}, "axis": null},
     "detail": {"field": "k"}}},
   {"data": {"name": "precip"}, "mark": {"type": "line", "strokeWidth": 1, "color": "#7fd0f2", "interpolate": "monotone", "clip": true},
    "encoding": {
     "x": {"field": "t", "type": "quantitative", "scale": {"domain": [-7.5, 157], "nice": false, "zero": false}, "axis": null},
     "y": {"field": "c1", "type": "quantitative", "scale": {"domain": [0, 17], "nice": false, "zero": false}, "axis": null}}},
   {"data": {"name": "precip"}, "transform": [{"fold": ["p1","p2","p3","p4","p5","p6","p7","p8"], "as": ["k","v"]}],
    "mark": {"type": "line", "strokeWidth": 0.9, "color": "#e23ddc", "interpolate": "monotone", "clip": true},
    "encoding": {
     "x": {"field": "t", "type": "quantitative", "scale": {"domain": [-7.5, 157], "nice": false, "zero": false}, "axis": null},
     "y": {"field": "v", "type": "quantitative", "scale": {"domain": [0, 17], "nice": false, "zero": false}, "axis": null},
     "detail": {"field": "k"}}},
   {"data": {"name": "precip"}, "mark": {"type": "line", "strokeWidth": 0.9, "color": "#e8402a", "interpolate": "monotone", "clip": true},
    "encoding": {
     "x": {"field": "t", "type": "quantitative", "scale": {"domain": [-7.5, 157], "nice": false, "zero": false}, "axis": null},
     "y": {"field": "r1", "type": "quantitative", "scale": {"domain": [0, 17], "nice": false, "zero": false}, "axis": null}}},
   {"data": {"name": "precip"}, "mark": {"type": "line", "strokeWidth": 0.9, "color": "#f07a20", "interpolate": "monotone", "clip": true},
    "encoding": {
     "x": {"field": "t", "type": "quantitative", "scale": {"domain": [-7.5, 157], "nice": false, "zero": false}, "axis": null},
     "y": {"field": "r2", "type": "quantitative", "scale": {"domain": [0, 17], "nice": false, "zero": false}, "axis": null}}},
   {"data": {"name": "precip"}, "mark": {"type": "line", "color": "#000", "strokeWidth": 1.1, "strokeDash": [1.5, 1.5], "interpolate": "monotone", "clip": true},
    "encoding": {
     "x": {"field": "t", "type": "quantitative", "scale": {"domain": [-7.5, 157], "nice": false, "zero": false}, "axis": null},
     "y": {"field": "d", "type": "quantitative", "scale": {"domain": [0, 17], "nice": false, "zero": false},
      "axis": {"orient": "right", "values": [0,5,10,15], "title": null, "labelPadding": 1}}}},
   {"data": {"name": "precip"}, "mark": {"type": "line", "color": "#000", "strokeWidth": 2, "interpolate": "monotone", "clip": true},
    "encoding": {
     "x": {"field": "t", "type": "quantitative", "scale": {"domain": [-7.5, 157], "nice": false, "zero": false},
      "axis": {"values": [-6,0,6,12,18,24,30,36,42,48,54,60,66,72,78,84,90,96,102,108,114,120,126,132,138,144,150,156], "labelExpr": "(((datum.value % 24) + 24) % 24) == 0 ? ['Lun','Mar','Mié','Jue','Vie','Sáb','Dom'][floor(datum.value / 24)] : ((((datum.value % 24) + 24) % 24) < 10 ? '0' : '') + (((datum.value % 24) + 24) % 24)", "title": null, "labelFlush": false, "labelOverlap": false}},
     "y": {"field": "m", "type": "quantitative", "scale": {"domain": [0, 17], "nice": false, "zero": false},
      "axis": {"values": [0,5,10,15], "title": "[mm]", "titlePadding": 2, "grid": true, "gridColor": "#7a7a7a", "gridWidth": 0.8, "gridOpacity": {"condition": {"test": "datum.value > 0", "value": 1}, "value": 0}}}}}
  ]
 },
 {
  "width": 385, "height": 83,
  "title": {"text": ["Cobertura de nubes", "Velocidad del viento / Dirección del viento"], "fontSize": 5.5, "lineHeight": 7, "offset": 2, "anchor": "middle"},
  "resolve": {"axis": {"x": "independent", "y": "independent"}},
  "layer": [
   {"data": {"name": "days"}, "transform": [{"filter": "datum.d0 < 144"}], "mark": {"type": "rect", "color": "#e8ee4a", "clip": true},
    "encoding": {"x": {"field": "r", "type": "quantitative", "scale": {"domain": [-7.5, 157], "nice": false, "zero": false}, "axis": null}, "x2": {"field": "s"}}},
   {"data": {"name": "days"}, "transform": [{"filter": "datum.d0 == 24 || datum.d0 == 48 || datum.d0 == 96 || datum.d0 == 120"}], "mark": {"type": "rule", "color": "#666", "strokeWidth": 1},
    "encoding": {"x": {"field": "d0", "type": "quantitative", "scale": {"domain": [-7.5, 157], "nice": false, "zero": false}, "axis": null}}},
   {"data": {"name": "wind"}, "transform": [{"fold": ["w1","w2","w3"], "as": ["k","v"]}],
    "mark": {"type": "line", "strokeWidth": 0.9, "color": "#75858f", "interpolate": "monotone", "clip": true},
    "encoding": {
     "x": {"field": "t", "type": "quantitative", "scale": {"domain": [-7.5, 157], "nice": false, "zero": false}, "axis": null},
     "y": {"field": "v", "type": "quantitative", "scale": {"domain": [0, 68], "nice": false, "zero": false}, "axis": null},
     "detail": {"field": "k"}}},
   {"data": {"name": "wind"}, "transform": [{"fold": ["w4","w5","w6"], "as": ["k","v"]}],
    "mark": {"type": "line", "strokeWidth": 0.9, "color": "#3aa6dc", "interpolate": "monotone", "clip": true},
    "encoding": {
     "x": {"field": "t", "type": "quantitative", "scale": {"domain": [-7.5, 157], "nice": false, "zero": false}, "axis": null},
     "y": {"field": "v", "type": "quantitative", "scale": {"domain": [0, 68], "nice": false, "zero": false}, "axis": null},
     "detail": {"field": "k"}}},
   {"data": {"name": "wind"}, "mark": {"type": "line", "strokeWidth": 0.9, "color": "#3bb0b0", "interpolate": "monotone", "clip": true},
    "encoding": {
     "x": {"field": "t", "type": "quantitative", "scale": {"domain": [-7.5, 157], "nice": false, "zero": false}, "axis": null},
     "y": {"field": "w7", "type": "quantitative", "scale": {"domain": [0, 68], "nice": false, "zero": false}, "axis": null}}},
   {"data": {"name": "wind"}, "mark": {"type": "line", "color": "#1d3340", "strokeWidth": 1.1, "strokeDash": [1.5, 1.5], "interpolate": "monotone", "clip": true},
    "encoding": {
     "x": {"field": "t", "type": "quantitative", "scale": {"domain": [-7.5, 157], "nice": false, "zero": false}, "axis": null},
     "y": {"field": "d", "type": "quantitative", "scale": {"domain": [0, 68], "nice": false, "zero": false},
      "axis": {"orient": "right", "values": [0,10,20,30,40,50,60], "title": null, "labelPadding": 1}}}},
   {"data": {"name": "wind"}, "mark": {"type": "line", "color": "#1d3340", "strokeWidth": 2.2, "interpolate": "monotone", "clip": true},
    "encoding": {
     "x": {"field": "t", "type": "quantitative", "scale": {"domain": [-7.5, 157], "nice": false, "zero": false},
      "axis": {"values": [-6,0,6,12,18,24,30,36,42,48,54,60,66,72,78,84,90,96,102,108,114,120,126,132,138,144,150,156], "labelExpr": "(((datum.value % 24) + 24) % 24) == 0 ? ['Lun','Mar','Mié','Jue','Vie','Sáb','Dom'][floor(datum.value / 24)] : ((((datum.value % 24) + 24) % 24) < 10 ? '0' : '') + (((datum.value % 24) + 24) % 24)", "title": null, "labelFlush": false, "labelOverlap": false}},
     "y": {"field": "m", "type": "quantitative", "scale": {"domain": [0, 68], "nice": false, "zero": false},
      "axis": {"values": [0,10,20,30,40,50,60], "title": "[km/h]", "titlePadding": 2}}}},
   {"data": {"name": "wdir"}, "mark": {"type": "point", "shape": "circle", "filled": false, "size": 110, "color": "#555", "strokeWidth": 0.8, "opacity": 1},
    "encoding": {
     "x": {"field": "t", "type": "quantitative", "scale": {"domain": [-7.5, 157], "nice": false, "zero": false}, "axis": null},
     "y": {"datum": 62, "type": "quantitative", "scale": {"domain": [0, 68], "nice": false, "zero": false}, "axis": null}}},
   {"data": {"name": "wdir"}, "mark": {"type": "point", "shape": "arrow", "filled": true, "size": 22, "color": "#555", "opacity": 1},
    "encoding": {
     "x": {"field": "t", "type": "quantitative", "scale": {"domain": [-7.5, 157], "nice": false, "zero": false}, "axis": null},
     "y": {"datum": 62, "type": "quantitative", "scale": {"domain": [0, 68], "nice": false, "zero": false}, "axis": null},
     "angle": {"field": "dir", "type": "quantitative", "scale": {"domain": [0, 360], "range": [0, 360]}, "legend": null}}}
  ]
 },
 {
  "width": 414, "height": 7,
  "data": {"values": [{}]},
  "mark": {"type": "rule", "opacity": 0},
  "encoding": {},
  "view": {"fill": "#f4e900", "stroke": null}
 }
]
}
